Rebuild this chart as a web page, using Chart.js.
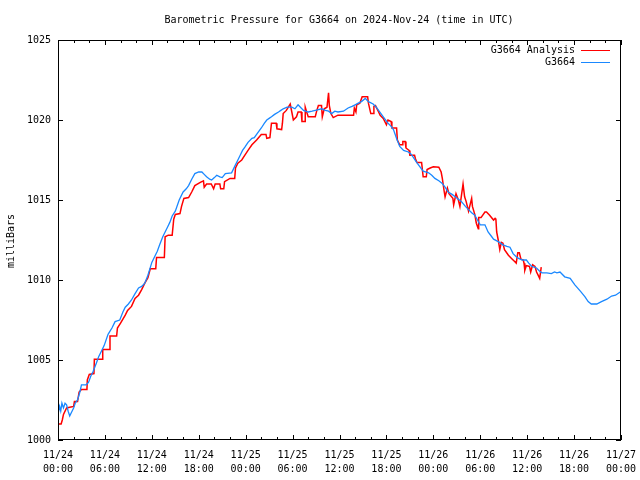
<!DOCTYPE html>
<html>
<head>
<meta charset="utf-8">
<script src="https://cdn.jsdelivr.net/npm/chart.js@4"></script>
<style>
html,body{margin:0;padding:0;background:#fff;}
canvas{display:block;}
</style>
</head>
<body>
<canvas id="c" width="640" height="480"></canvas>
<script>
const titleText = 'Barometric Pressure for G3664 on 2024-Nov-24 (time in UTC)';
const yAxisTitle = 'milliBars';
const seriesNames = ['G3664 Analysis', 'G3664'];
const seriesColors = ['#ff0000', '#1a88ff'];
const xTickLabels = [
  ['11/24','00:00'],['11/24','06:00'],['11/24','12:00'],['11/24','18:00'],
  ['11/25','00:00'],['11/25','06:00'],['11/25','12:00'],['11/25','18:00'],
  ['11/26','00:00'],['11/26','06:00'],['11/26','12:00'],['11/26','18:00'],
  ['11/27','00:00']
];
const yTickValues = [1000, 1005, 1010, 1015, 1020, 1025];

// G3664 station (hours since 11/24 00:00 UTC, mb)
const stationHours = [0.0,0.2,0.35,0.5,0.7,0.9,1.1,1.3,1.5,1.7,2.0,2.2,2.5,2.8,3.0,3.6,3.9,4.2,4.5,4.9,5.2,5.5,5.9,6.4,6.9,7.3,7.9,8.3,8.6,9.0,9.4,9.8,10.3,10.7,11.1,11.5,12.0,12.4,12.7,13.0,13.4,13.7,14.0,14.3,14.6,15.0,15.5,16.0,16.4,16.7,17.1,17.5,18.0,18.4,18.7,19.0,19.4,19.65,20.0,20.3,20.7,21.0,21.4,22.2,22.6,23.0,23.3,23.6,23.9,24.3,24.8,25.1,25.4,25.7,26.0,26.4,26.7,27.0,27.3,27.7,28.2,28.5,28.8,29.3,29.9,30.3,30.7,31.0,31.4,32.0,32.5,32.9,33.3,33.7,34.2,34.6,35.0,35.4,35.8,36.5,37.1,37.6,38.0,38.4,38.8,39.3,39.7,40.3,40.7,41.0,41.3,41.6,42.2,42.6,42.9,43.3,43.7,44.2,44.8,45.1,45.4,45.8,46.1,46.7,47.4,47.8,48.2,48.7,49.1,49.5,49.9,50.4,50.8,51.2,51.6,52.1,52.5,52.9,53.3,53.7,54.0,54.6,55.0,55.4,55.7,56.3,56.9,57.4,57.8,58.2,58.6,58.9,59.4,59.9,60.2,60.6,61.2,61.6,61.9,62.5,63.1,63.5,63.8,64.2,64.8,65.5,66.1,66.8,67.4,67.8,68.2,68.9,69.5,70.2,70.8,71.3,71.9];
const stationValues = [1001.6,1002.1,1001.8,1002.3,1002.0,1002.3,1002.2,1001.8,1001.5,1001.7,1002.0,1002.3,1002.5,1003.0,1003.45,1003.45,1003.6,1004.0,1004.3,1004.8,1005.2,1005.5,1005.9,1006.6,1007.0,1007.4,1007.5,1008.0,1008.3,1008.5,1008.75,1009.1,1009.5,1009.6,1009.8,1010.3,1011.1,1011.5,1011.8,1012.2,1012.7,1013.0,1013.3,1013.6,1014.0,1014.3,1015.0,1015.5,1015.7,1015.9,1016.3,1016.65,1016.75,1016.75,1016.6,1016.45,1016.3,1016.25,1016.4,1016.55,1016.45,1016.4,1016.65,1016.7,1017.1,1017.5,1017.8,1018.1,1018.3,1018.6,1018.85,1018.9,1019.1,1019.3,1019.5,1019.8,1020.0,1020.1,1020.2,1020.35,1020.5,1020.6,1020.7,1020.8,1020.8,1020.7,1020.95,1020.8,1020.6,1020.5,1020.55,1020.6,1020.65,1020.7,1020.6,1020.55,1020.4,1020.55,1020.5,1020.55,1020.75,1020.85,1020.95,1021.05,1021.15,1021.35,1021.15,1021.0,1020.8,1020.6,1020.4,1020.2,1019.8,1019.6,1019.4,1018.85,1018.35,1018.1,1018.0,1017.9,1017.7,1017.4,1017.2,1016.8,1016.7,1016.55,1016.35,1016.2,1016.05,1015.8,1015.5,1015.35,1015.2,1015.05,1014.9,1014.6,1014.4,1014.2,1014.05,1013.7,1013.45,1013.45,1013.0,1012.75,1012.55,1012.4,1012.2,1012.1,1012.05,1011.65,1011.45,1011.35,1011.25,1011.25,1011.05,1010.85,1010.75,1010.55,1010.45,1010.45,1010.4,1010.5,1010.45,1010.5,1010.2,1010.1,1009.7,1009.3,1008.95,1008.65,1008.5,1008.5,1008.65,1008.8,1009.0,1009.05,1009.25];

// G3664 Analysis
const analysisHours = [0.0,0.4,0.55,0.7,1.1,1.5,2.0,2.1,2.5,2.7,3.0,3.7,3.75,4.0,4.6,4.65,5.7,5.72,6.6,6.65,7.5,7.6,8.0,8.6,8.9,9.4,9.85,10.3,10.7,11.1,11.5,11.8,12.5,12.6,13.6,13.7,14.1,14.6,14.8,15.0,15.6,15.8,16.1,16.7,17.1,17.5,18.2,18.6,18.7,19.0,19.6,19.9,20.1,20.7,20.8,21.2,21.3,22.0,22.6,22.7,23.0,23.5,23.9,24.3,24.8,25.4,26.0,26.6,26.7,27.1,27.3,27.9,28.0,28.6,28.7,28.8,29.2,29.7,29.9,30.1,30.5,30.7,31.1,31.2,31.6,31.62,31.8,32.0,32.9,33.1,33.3,33.7,33.8,34.05,34.4,34.5,34.6,34.7,34.9,35.2,35.8,37.8,37.9,38.1,38.2,38.6,38.9,39.6,39.7,40.0,40.3,40.4,40.6,41.0,41.2,41.6,42.0,42.2,42.6,42.7,43.3,43.4,43.7,44.0,44.1,44.4,44.5,44.9,45.0,45.6,45.7,45.9,46.5,46.6,46.7,47.1,47.2,47.6,48.0,48.7,49.0,49.15,49.4,49.5,49.8,50.0,50.5,50.6,50.9,51.2,51.4,51.8,52.0,52.2,52.5,52.9,53.0,53.3,53.5,53.75,53.8,54.1,54.6,54.8,55.2,55.7,55.9,56.0,56.1,56.3,56.5,56.7,56.9,57.1,57.6,58.0,58.4,58.6,58.8,59.0,59.2,59.5,59.6,59.7,59.9,60.3,60.45,60.7,61.0,61.2,61.4,61.6,61.8];
const analysisValues = [1001.0,1001.0,1001.25,1001.6,1002.0,1002.05,1002.1,1002.4,1002.4,1003.0,1003.15,1003.15,1003.75,1004.1,1004.15,1005.05,1005.05,1005.65,1005.65,1006.5,1006.5,1007.0,1007.3,1007.8,1008.1,1008.35,1008.85,1009.05,1009.4,1009.8,1010.15,1010.7,1010.7,1011.4,1011.4,1012.7,1012.8,1012.8,1013.8,1014.1,1014.15,1014.6,1015.1,1015.15,1015.5,1015.9,1016.1,1016.2,1015.8,1016.0,1016.0,1015.7,1016.0,1016.0,1015.7,1015.7,1016.15,1016.35,1016.35,1017.0,1017.3,1017.5,1017.8,1018.1,1018.45,1018.75,1019.1,1019.1,1018.85,1018.9,1019.8,1019.8,1019.45,1019.4,1019.8,1020.4,1020.6,1021.0,1020.5,1020.0,1020.2,1020.5,1020.5,1019.9,1019.9,1020.8,1020.5,1020.2,1020.2,1020.6,1020.9,1020.9,1020.2,1020.7,1020.8,1021.25,1021.7,1020.9,1020.4,1020.15,1020.3,1020.3,1020.75,1020.5,1020.95,1021.05,1021.45,1021.45,1021.05,1020.4,1020.4,1020.85,1020.9,1020.5,1020.3,1020.1,1019.7,1020.0,1019.9,1019.5,1019.5,1018.75,1018.45,1018.45,1018.65,1018.65,1018.25,1018.1,1017.8,1017.8,1017.6,1017.35,1017.35,1016.9,1016.45,1016.45,1016.9,1017.0,1017.08,1017.05,1016.75,1016.35,1015.5,1015.2,1015.75,1015.4,1015.1,1014.7,1015.4,1015.0,1014.6,1016.0,1015.2,1014.9,1014.3,1015.1,1014.6,1014.1,1013.55,1013.2,1013.9,1013.9,1014.25,1014.25,1014.05,1013.75,1013.85,1013.8,1013.0,1012.5,1011.9,1012.35,1012.3,1011.9,1011.55,1011.35,1011.15,1011.05,1011.7,1011.7,1011.3,1011.25,1011.05,1010.6,1010.9,1010.85,1010.5,1010.95,1010.85,1010.5,1010.3,1010.1,1010.8];

const toPoints = (hs, vs) => hs.map((h, i) => ({x: h, y: vs[i]}));

Chart.defaults.font.family = 'DejaVu Sans Mono';
Chart.defaults.font.size = 10;
Chart.defaults.color = '#000';

const FONT = '10px "DejaVu Sans Mono"';

const gnuplotDecor = {
  id: 'gnuplotDecor',
  afterDraw(chart) {
    const ctx = chart.ctx;
    const a = chart.chartArea;
    const xs = chart.scales.x, ys = chart.scales.y;
    ctx.save();
    ctx.strokeStyle = '#000';
    ctx.lineWidth = 1;
    ctx.strokeRect(Math.round(a.left) + 0.5, Math.round(a.top) + 0.5,
                   Math.round(a.right - a.left) - 1, Math.round(a.bottom - a.top) - 1);
    ctx.beginPath();
    for (let h = 0; h <= 72; h += 2) {
      const px = Math.round(xs.getPixelForValue(h)) + 0.5;
      const len = (h % 6 === 0) ? 5 : 3;
      ctx.moveTo(px, a.bottom); ctx.lineTo(px, a.bottom - len);
      ctx.moveTo(px, a.top); ctx.lineTo(px, a.top + len);
    }
    yTickValues.forEach(v => {
      const py = Math.round(ys.getPixelForValue(v)) + 0.5;
      ctx.moveTo(a.left, py); ctx.lineTo(a.left + 5, py);
      ctx.moveTo(a.right, py); ctx.lineTo(a.right - 5, py);
    });
    ctx.stroke();
    ctx.fillStyle = '#000';
    ctx.font = FONT;
    ctx.textAlign = 'center';
    ctx.textBaseline = 'middle';
    ctx.fillText(titleText, 339, 20);
    ctx.save();
    ctx.translate(11, 241);
    ctx.rotate(-Math.PI / 2);
    ctx.fillText(yAxisTitle, 0, 0);
    ctx.restore();
    ctx.textAlign = 'right';
    const ly = [50, 62];
    seriesNames.forEach((name, i) => {
      ctx.fillStyle = '#000';
      ctx.fillText(name, 575, ly[i]);
      ctx.strokeStyle = seriesColors[i];
      ctx.lineWidth = 1;
      ctx.beginPath();
      ctx.moveTo(581, ly[i] + 0.5); ctx.lineTo(610, ly[i] + 0.5);
      ctx.stroke();
    });
    ctx.restore();
  }
};

new Chart(document.getElementById('c'), {
  type: 'line',
  data: {
    datasets: [
      {
        label: seriesNames[1],
        data: toPoints(stationHours, stationValues),
        borderColor: seriesColors[1],
        borderWidth: 1.3,
        pointRadius: 0,
        tension: 0,
        fill: false
      },
      {
        label: seriesNames[0],
        data: toPoints(analysisHours, analysisValues),
        borderColor: seriesColors[0],
        borderWidth: 1.5,
        pointRadius: 0,
        tension: 0,
        fill: false
      }
    ]
  },
  options: {
    responsive: false,
    animation: false,
    devicePixelRatio: 1,
    layout: { padding: { left: 0, right: 19, top: 40, bottom: 0 } },
    plugins: { legend: { display: false }, tooltip: { enabled: false }, title: { display: false } },
    scales: {
      x: {
        type: 'linear',
        min: 0, max: 72,
        grid: { display: false, drawTicks: false },
        border: { display: false },
        ticks: {
          stepSize: 6,
          autoSkip: false,
          maxRotation: 0,
          padding: 8,
          font: { size: 10, lineHeight: 1.4 },
          callback: (v, i) => xTickLabels[i]
        },
        afterFit: s => { s.height = 40; s.paddingLeft = 0; s.paddingRight = 0; }
      },
      y: {
        min: 1000, max: 1025,
        grid: { display: false, drawTicks: false },
        border: { display: false },
        ticks: {
          stepSize: 5,
          padding: 7,
          callback: (v) => String(v)
        },
        afterFit: s => { s.width = 58; s.paddingTop = 0; s.paddingBottom = 0; }
      }
    }
  },
  plugins: [gnuplotDecor]
});
</script>
</body>
</html>
